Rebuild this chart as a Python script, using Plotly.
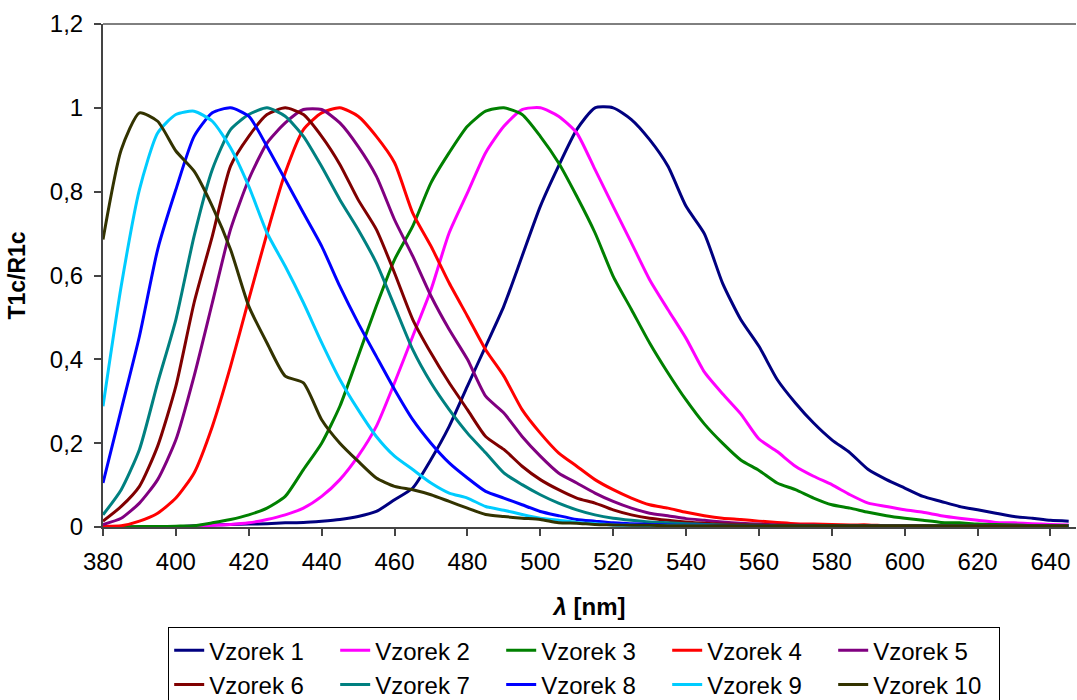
import plotly.graph_objects as go

wavelength = list(range(380, 650, 5))  # 380 ... 645 nm

vzorek_1 = [0, 0, 0, 0, 0, 0.003, 0.005, 0.006, 0.007, 0.008, 0.010, 0.011, 0.014, 0.018, 0.025, 0.037,
            0.065, 0.093, 0.161, 0.240, 0.336, 0.431, 0.527, 0.646, 0.765, 0.861, 0.948, 1.0, 1.0, 0.972,
            0.924, 0.861, 0.765, 0.700, 0.582, 0.495, 0.431, 0.352, 0.296, 0.248, 0.208, 0.177, 0.137,
            0.113, 0.093, 0.073, 0.061, 0.049, 0.041, 0.033, 0.025, 0.021, 0.016, 0.014]
vzorek_2 = [0, 0, 0, 0, 0, 0.002, 0.004, 0.006, 0.010, 0.018, 0.029, 0.045, 0.073, 0.113, 0.169, 0.240,
            0.344, 0.455, 0.566, 0.702, 0.797, 0.893, 0.956, 0.996, 1.0, 0.980, 0.940, 0.853, 0.765,
            0.678, 0.590, 0.519, 0.450, 0.370, 0.318, 0.270, 0.210, 0.180, 0.145, 0.121, 0.101, 0.077,
            0.057, 0.049, 0.041, 0.035, 0.027, 0.021, 0.016, 0.011, 0.010, 0.008, 0.006, 0.005]
vzorek_3 = [0, 0, 0.001, 0.001, 0.002, 0.003, 0.010, 0.018, 0.029, 0.045, 0.073, 0.137, 0.200, 0.288,
            0.407, 0.527, 0.638, 0.718, 0.821, 0.893, 0.956, 0.992, 1.0, 0.984, 0.932, 0.869, 0.789,
            0.702, 0.598, 0.519, 0.439, 0.368, 0.303, 0.246, 0.200, 0.160, 0.135, 0.105, 0.089, 0.069,
            0.053, 0.045, 0.035, 0.027, 0.021, 0.016, 0.011, 0.010, 0.007, 0.006, 0.005, 0.003, 0.002, 0.002]
vzorek_4 = [0.002, 0.003, 0.014, 0.033, 0.069, 0.129, 0.240, 0.383, 0.543, 0.700, 0.845, 0.948, 0.988,
            1.0, 0.980, 0.932, 0.869, 0.749, 0.670, 0.582, 0.503, 0.423, 0.360, 0.280, 0.224, 0.177,
            0.145, 0.113, 0.089, 0.069, 0.053, 0.045, 0.035, 0.027, 0.021, 0.018, 0.014, 0.011, 0.008,
            0.007, 0.006, 0.005, 0.005, 0.003, 0.003, 0.003, 0.002, 0.002, 0.002, 0.002, 0.002, 0.002, 0.002, 0.002]
vzorek_5 = [0.006, 0.021, 0.057, 0.113, 0.208, 0.360, 0.535, 0.710, 0.829, 0.916, 0.964, 0.996, 0.996,
            0.964, 0.908, 0.837, 0.733, 0.646, 0.551, 0.471, 0.400, 0.312, 0.272, 0.216, 0.169, 0.129,
            0.105, 0.081, 0.061, 0.045, 0.033, 0.027, 0.020, 0.016, 0.012, 0.009, 0.007, 0.005, 0.004,
            0.004, 0.003, 0.003, 0.003, 0.002, 0.002, 0.002, 0.002, 0.002, 0.002, 0.002, 0.002, 0.002, 0.002, 0.002]
vzorek_6 = [0.014, 0.049, 0.097, 0.193, 0.336, 0.535, 0.694, 0.861, 0.932, 0.984, 1.0, 0.984, 0.932,
            0.865, 0.781, 0.710, 0.606, 0.495, 0.415, 0.344, 0.280, 0.216, 0.185, 0.145, 0.113, 0.089,
            0.069, 0.057, 0.041, 0.029, 0.021, 0.016, 0.012, 0.009, 0.007, 0.006, 0.005, 0.004, 0.004,
            0.003, 0.003, 0.003, 0.002, 0.002, 0.002, 0.002, 0.002, 0.002, 0.002, 0.002, 0.002, 0.002, 0.002, 0.002]
vzorek_7 = [0.029, 0.089, 0.185, 0.344, 0.495, 0.694, 0.853, 0.948, 0.984, 1.0, 0.980, 0.932, 0.860,
            0.781, 0.710, 0.630, 0.527, 0.423, 0.344, 0.280, 0.224, 0.177, 0.129, 0.101, 0.077, 0.057,
            0.041, 0.029, 0.021, 0.016, 0.012, 0.010, 0.008, 0.006, 0.005, 0.004, 0.004, 0.003, 0.003,
            0.003, 0.002, 0.002, 0.002, 0.002, 0.002, 0.002, 0.002, 0.002, 0.002, 0.002, 0.002, 0.002, 0.002, 0.002]
vzorek_8 = [0.105, 0.280, 0.455, 0.662, 0.805, 0.932, 0.988, 1.0, 0.980, 0.908, 0.829, 0.749, 0.670,
            0.574, 0.487, 0.407, 0.328, 0.256, 0.200, 0.153, 0.117, 0.085, 0.069, 0.053, 0.037, 0.027,
            0.018, 0.014, 0.010, 0.008, 0.006, 0.005, 0.004, 0.004, 0.003, 0.003, 0.003, 0.002, 0.002,
            0.002, 0.002, 0.002, 0.002, 0.002, 0.002, 0.002, 0.002, 0.002, 0.002, 0.002, 0.002, 0.002, 0.002, 0.002]
vzorek_9 = [0.288, 0.575, 0.805, 0.940, 0.984, 0.992, 0.968, 0.905, 0.813, 0.702, 0.622, 0.535, 0.440,
            0.352, 0.280, 0.216, 0.169, 0.137, 0.105, 0.081, 0.069, 0.049, 0.040, 0.030, 0.021, 0.016,
            0.011, 0.008, 0.005, 0.004, 0.003, 0.003, 0.003, 0.003, 0.002, 0.002, 0.002, 0.002, 0.002,
            0.002, 0.002, 0.002, 0.002, 0.002, 0.002, 0.002, 0.002, 0.002, 0.002, 0.002, 0.002, 0.002, 0.002, 0.002]
vzorek_10 = [0.686, 0.900, 0.988, 0.968, 0.897, 0.849, 0.765, 0.662, 0.527, 0.439, 0.360, 0.344, 0.256,
             0.200, 0.157, 0.117, 0.097, 0.089, 0.077, 0.061, 0.045, 0.030, 0.025, 0.021, 0.018, 0.010,
             0.009, 0.006, 0.005, 0.004, 0.004, 0.003, 0.003, 0.003, 0.003, 0.003, 0.003, 0.003, 0.003,
             0.003, 0.003, 0.003, 0.003, 0.003, 0.003, 0.003, 0.003, 0.003, 0.003, 0.003, 0.003, 0.003, 0.003, 0.003]

series_names = ["Vzorek 1", "Vzorek 2", "Vzorek 3", "Vzorek 4", "Vzorek 5",
                "Vzorek 6", "Vzorek 7", "Vzorek 8", "Vzorek 9", "Vzorek 10"]
series_values = [vzorek_1, vzorek_2, vzorek_3, vzorek_4, vzorek_5,
                 vzorek_6, vzorek_7, vzorek_8, vzorek_9, vzorek_10]
colors = ["#000080", "#FF00FF", "#008000", "#FF0000", "#800080",
          "#800000", "#008080", "#0000FF", "#00CCFF", "#333300"]

x_ticks = list(range(380, 660, 20))
y_ticks = [0, 0.2, 0.4, 0.6, 0.8, 1.0, 1.2]

FONT = "Liberation Sans, Arial, sans-serif"

fig = go.Figure()
for name, vals, col in zip(series_names, series_values, colors):
    fig.add_trace(go.Scatter(x=wavelength, y=vals, name=name, mode="lines",
                             line=dict(color=col, width=3, shape="spline", smoothing=0.6)))

fig.update_layout(
    width=1077, height=700,
    margin=dict(l=103, r=1, t=24, b=173, autoexpand=False),
    paper_bgcolor="white", plot_bgcolor="white",
    separators=", ",
    font=dict(family=FONT, size=24, color="black"),
    showlegend=True,
    legend=dict(orientation="h", x=0.067, xanchor="left", y=-0.199, yanchor="top",
                xref="paper", yref="paper",
                bordercolor="black", borderwidth=1, bgcolor="white",
                entrywidth=121, entrywidthmode="pixels",
                font=dict(family=FONT, size=24, color="black"),
                traceorder="normal"),
)
fig.update_xaxes(range=[380, 647], tickvals=x_ticks, ticks="outside", ticklen=7,
                 tickcolor="#444", tickwidth=1.5, ticklabelstandoff=5,
                 showline=True, linecolor="#444", linewidth=2, showgrid=False, zeroline=False,
                 tickfont=dict(size=24),
                 title=dict(text="<b><i>λ</i> [nm]</b>", font=dict(size=24), standoff=24))
fig.update_yaxes(range=[0, 1.2], tickvals=y_ticks, ticks="outside", ticklen=7,
                 tickcolor="#444", tickwidth=1.5, ticklabelstandoff=6,
                 showline=True, linecolor="#444", linewidth=2, showgrid=False, zeroline=False,
                 tickfont=dict(size=24),
                 title=dict(text="<b>T1c/R1c</b>", font=dict(size=23), standoff=18))
fig.add_shape(type="line", xref="paper", yref="paper", x0=0, x1=1, y0=1, y1=1,
              line=dict(color="black", width=1))

fig.write_html("out.html")
